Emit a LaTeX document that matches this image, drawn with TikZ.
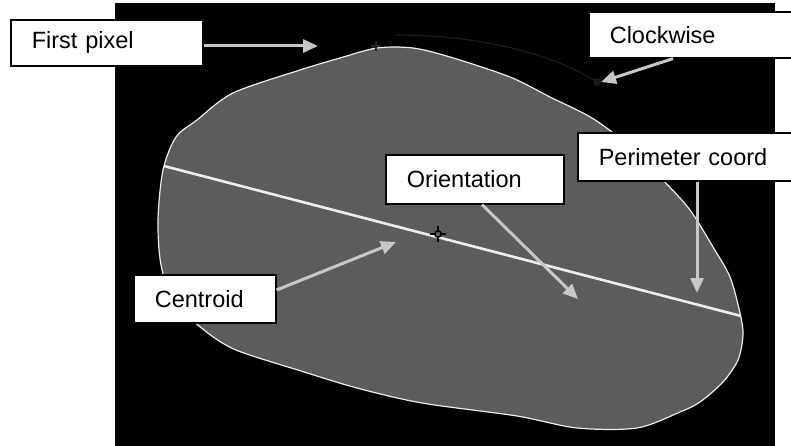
\documentclass[tikz,border=0pt]{standalone}
\usepackage{fontspec}
\setmainfont{Liberation Sans}
\usetikzlibrary{arrows.meta,calc}

\definecolor{blobgray}{gray}{0.36}
\definecolor{arrowgray}{gray}{0.78}
\definecolor{edgewhite}{gray}{0.93}
\definecolor{faintgray}{gray}{0.1}

\begin{document}
\begin{tikzpicture}[
    x=1pt, y=-1pt,
    % --- styles ---
    label box/.style={draw, line width=1.6pt, fill=white, anchor=north west,
        inner xsep=21pt, inner ysep=0pt, align=left,
        font=\fontsize{23.5}{28}\selectfont},
    % light gray pointer
    pointer/.style={line width=3pt, draw=arrowgray, -{Triangle[length=15pt, width=13pt, fill=arrowgray]}},
    % white axis line
    axis line/.style={line width=2.6pt, edgewhite}
]
    % --- 1. background and frame ---
    \useasboundingbox (0,0) rectangle (791,446);
    \clip (0,0) rectangle (791,446);
    \fill[black] (115,3) rectangle (775,446);

    % --- 2. the blob ---
    \filldraw[fill=blobgray, draw=edgewhite, line width=1.2pt]
        plot[smooth cycle, tension=0.5] coordinates {
        (377,48) (413,48) (450,57) (510,77) (550,97) (592,118) (628,145)
        (663,180) (690,210) (713,247) (730,277) (740,313) (743,335) (738,360)
        (723,382) (700,402) (680,412) (637,428) (577,428) (517,416) (422,403)
        (357,388) (301,371) (236,350) (204,330) (174,302) (161,265) (158,220)
        (163,170) (176,137) (197,120) (233,93) (300,70) (340,58)};

    % --- 3. key coordinates ---
    \coordinate (firstpx) at (376,46);
    \coordinate (cent) at (438,234);
    \coordinate (axisL) at (164,166);
    \coordinate (axisR) at (741,316);
    \coordinate (cwstart) at (395,35);
    \coordinate (cwend) at (597,82);

    % arrow tips
    \coordinate (fptip) at (318,46);
    \coordinate (cwtip) at (601,82);
    \coordinate (pctip) at (697,293);
    \coordinate (ortip) at (578,299);
    \coordinate (cetip) at (396,242);

    % --- 4. orientation axis and markers ---
    \draw[axis line] (axisL) -- (axisR);

    % clockwise trace (faint)
    \draw[faintgray, line width=1.3pt] (cwstart) .. controls (490,35) and (560,58) .. (cwend);
    \fill[faintgray] (cwend) circle (4);

    % first pixel marker
    \draw[black!85, line width=2pt] ($(firstpx)+(-5,0)$) -- ($(firstpx)+(5,0)$)
        ($(firstpx)+(0,-5)$) -- ($(firstpx)+(0,5)$);

    % centroid marker
    \draw[black, line width=1.5pt] (cent) circle (3.2);
    \draw[black, line width=1.8pt] ($(cent)+(-8,0)$) -- ($(cent)+(-3.2,0)$)
        ($(cent)+(3.2,0)$) -- ($(cent)+(8,0)$)
        ($(cent)+(0,-8)$) -- ($(cent)+(0,-3.2)$)
        ($(cent)+(0,3.2)$) -- ($(cent)+(0,8)$);

    % --- 5. label boxes ---
    \node[label box, minimum height=46pt, text width=150pt] (fpbox) at (10,19) {First pixel};
    \node[label box, minimum height=46pt, text width=180pt] (cwbox) at (588,11) {Clockwise};
    \node[label box, minimum height=48pt, text width=190pt] (pcbox) at (577,132) {Perimeter coord};
    \node[label box, minimum height=49pt, text width=136pt] (orbox) at (385,154) {Orientation};
    \node[label box, minimum height=48pt, text width=100pt] (cebox) at (133,274) {Centroid};

    % --- 6. pointers ---
    \draw[pointer] (fpbox.east |- fptip) -- (fptip);
    \draw[pointer] ($(cwbox.south west)+(85,0)$) -- (cwtip);
    \draw[pointer] ($(pcbox.south west)+(120,0)$) -- (pctip);
    \draw[pointer] ($(orbox.south west)+(97,0)$) -- (ortip);
    \draw[pointer] ($(cebox.north east)+(0,16)$) -- (cetip);

\end{tikzpicture}
\end{document}
